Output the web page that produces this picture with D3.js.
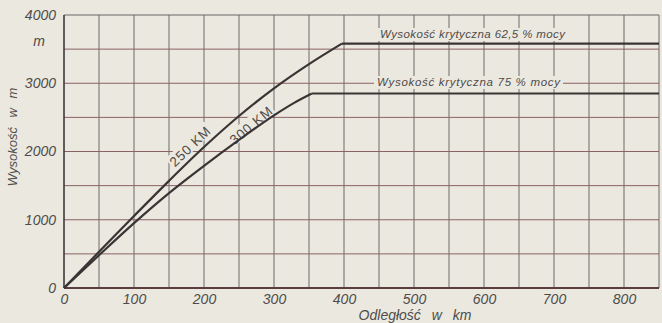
<!DOCTYPE html>
<html>
<head>
<meta charset="utf-8">
<script src="https://cdn.jsdelivr.net/npm/d3@7/dist/d3.min.js"></script>
<style>
  html, body { margin: 0; padding: 0; background: #ebe8e0; }
  svg { display: block; }
  text { font-family: "Liberation Sans", Arial, sans-serif; fill: #4e4c4a; }
</style>
</head>
<body>
<svg id="chart" width="662" height="323"></svg>
<script>
// Distance travelled (km) vs. altitude reached (m) for two cruise speeds
const km250 = [0, 50, 100, 150, 200, 250, 300, 350, 397, 850];
const alt250 = [0, 530, 1055, 1570, 2065, 2520, 2925, 3280, 3580, 3580];
const km300 = [0, 50, 100, 150, 200, 250, 300, 330, 354, 850];
const alt300 = [0, 480, 950, 1390, 1790, 2170, 2530, 2720, 2850, 2850];

const xTicks = [0, 100, 200, 300, 400, 500, 600, 700, 800];
const yTicks = [0, 1000, 2000, 3000, 4000];
const xGrid = d3.range(50, 851, 50);
const yGrid = d3.range(500, 4001, 500);

const curveLabels = ["250 KM", "300 KM"];
const ceilingLabels = ["Wysokość  krytyczna  62,5 % mocy", "Wysokość  krytyczna  75 % mocy"];

const svg = d3.select("#chart");
const x = d3.scaleLinear().domain([0, 850]).range([64, 659]);
const y = d3.scaleLinear().domain([0, 4000]).range([288, 15]);
const paper = "#ebe8e0";

// grid
svg.append("g").selectAll("line").data(xGrid).join("line")
  .attr("x1", d => x(d)).attr("x2", d => x(d))
  .attr("y1", y(0)).attr("y2", y(4000))
  .attr("stroke", "#6d6a68").attr("stroke-width", 1);
svg.append("g").selectAll("line").data(yGrid).join("line")
  .attr("x1", x(0)).attr("x2", x(850))
  .attr("y1", d => y(d)).attr("y2", d => y(d))
  .attr("stroke", d => d === 4000 ? "#6a6462" : "#8a6262").attr("stroke-width", 1);

// axes frame
svg.append("line").attr("x1", x(0)).attr("x2", x(0)).attr("y1", y(0)).attr("y2", y(4000))
  .attr("stroke", "#3c3938").attr("stroke-width", 1.6);
svg.append("line").attr("x1", x(0)).attr("x2", x(850)).attr("y1", y(0)).attr("y2", y(0))
  .attr("stroke", "#5a3e3e").attr("stroke-width", 1.8);

// tick labels
const xAxis = d3.axisBottom(x).tickValues(xTicks).tickFormat(d3.format("d")).tickSize(0).tickPadding(6);
const gx = svg.append("g").attr("transform", `translate(0,${y(0)})`).call(xAxis);
gx.select(".domain").remove();
gx.selectAll("text").style("font-family", "Liberation Sans, Arial, sans-serif")
  .style("font-style", "italic").style("font-size", "14px").attr("fill", "#4e4c4a");

const yAxis = d3.axisLeft(y).tickValues(yTicks).tickFormat(d3.format("d")).tickSize(0).tickPadding(8);
const gy = svg.append("g").attr("transform", `translate(${x(0)},0)`).call(yAxis);
gy.select(".domain").remove();
gy.selectAll("text").style("font-family", "Liberation Sans, Arial, sans-serif")
  .style("font-style", "italic").style("font-size", "14px").attr("fill", "#4e4c4a");

svg.append("text").attr("x", 39).attr("y", 46).attr("text-anchor", "middle")
  .style("font-style", "italic").style("font-size", "14px").text("m");

// axis titles
svg.append("text").attr("x", 415).attr("y", 320).attr("text-anchor", "middle")
  .style("font-style", "italic").style("font-size", "14px").style("word-spacing", "7px")
  .text("Odległość w km");
svg.append("text").attr("transform", "translate(17,137) rotate(-90)").attr("text-anchor", "middle")
  .style("font-style", "italic").style("font-size", "13px").style("word-spacing", "6px")
  .text("Wysokość w m");

// ceiling labels with paper backing
function ceilingLabel(txt, x0, x1, base) {
  svg.append("rect").attr("x", x0 - 3).attr("y", base - 10).attr("width", x1 - x0 + 6).attr("height", 13)
    .attr("fill", paper);
  svg.append("text").attr("x", x0).attr("y", base).attr("textLength", x1 - x0)
    .attr("lengthAdjust", "spacing")
    .style("font-style", "italic").style("font-size", "11.5px").text(txt);
}
ceilingLabel(ceilingLabels[0], 380, 565, 38);
ceilingLabel(ceilingLabels[1], 377, 560, 86);

// rotated speed labels along the climbing lines
function speedLabel(txt, cx, cy, ang) {
  const g = svg.append("g").attr("transform", `translate(${cx},${cy}) rotate(${ang})`);
  g.append("rect").attr("x", -27).attr("y", -8).attr("width", 54).attr("height", 14).attr("fill", paper);
  g.append("text").attr("text-anchor", "middle").attr("y", 5)
    .style("font-size", "13.5px").style("letter-spacing", "0.8px").text(txt);
}
speedLabel(curveLabels[0], 190, 146, -44);
speedLabel(curveLabels[1], 251, 125, -40);

// climb curves: smooth climb, then a straight run at the ceiling
const climb = d3.line().curve(d3.curveMonotoneX).x(d => x(d[0])).y(d => y(d[1]));
const flat = d3.line().x(d => x(d[0])).y(d => y(d[1]));
[[km250, alt250], [km300, alt300]].forEach(([ks, as]) => {
  const pts = ks.map((k, i) => [k, as[i]]);
  const n = pts.length;
  svg.append("path").datum(pts.slice(0, n - 1))
    .attr("d", climb).attr("fill", "none")
    .attr("stroke", "#3a3434").attr("stroke-width", 2.2).attr("stroke-linejoin", "round");
  svg.append("path").datum(pts.slice(n - 2))
    .attr("d", flat).attr("fill", "none")
    .attr("stroke", "#3a3434").attr("stroke-width", 2.2);
});
</script>
</body>
</html>
